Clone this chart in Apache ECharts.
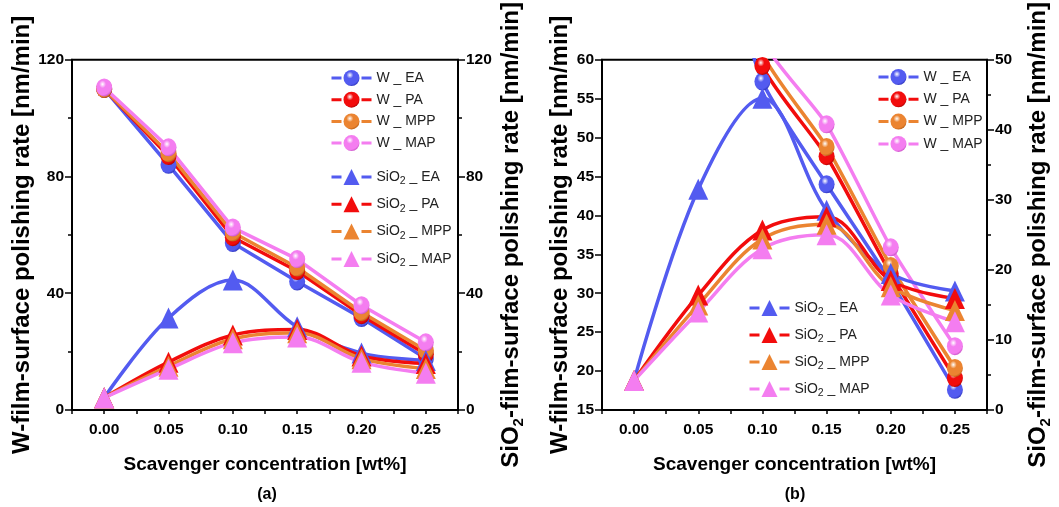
<!DOCTYPE html>
<html>
<head>
<meta charset="utf-8">
<script src="https://cdn.jsdelivr.net/npm/echarts@6/dist/echarts.min.js"></script>
<style>
html, body { margin: 0; padding: 0; background: #fff; }
#chart { width: 1059px; height: 507px; }
</style>
</head>
<body>
<div id="chart"></div>
<script>
// scavenger concentration [wt%]
var conc = [0, 0.05, 0.10, 0.15, 0.20, 0.25];
var concLabels = ['0.00', '0.05', '0.10', '0.15', '0.20', '0.25'];
var scavengers = ['EA', 'PA', 'MPP', 'MAP'];

// W-film polishing rate [nm/min]
var wEA  = [110, 84, 57.2, 44.0, 31.5, 17.6];
var wPA  = [110, 87, 59.2, 47.6, 32.5, 19.1];
var wMPP = [110, 88, 60.8, 48.8, 33.5, 20.4];
var wMAP = [110.5, 90, 62.5, 51.7, 35.9, 23.2];

// SiO2-film polishing rate [nm/min]
var sEA  = [4.2, 31.5, 44.5, 28.5, 19.5, 17.0];
var sPA  = [4.2, 16.4, 25.7, 27.6, 18.5, 15.9];
var sMPP = [4.2, 15.0, 24.4, 26.5, 17.6, 14.2];
var sMAP = [4.2, 14.0, 23.0, 25.0, 16.4, 12.6];

// axis ranges [min, max, interval]: panel (a), panel (b)
var wRange = [[0, 120, 40], [15, 60, 5]];
var sRange = [[0, 120, 40], [0, 50, 10]];

var wData = { EA: wEA, PA: wPA, MPP: wMPP, MAP: wMAP };
var sData = { EA: sEA, PA: sPA, MPP: sMPP, MAP: sMAP };

var colors = { EA: '#535bf0', PA: '#f20c0c', MPP: '#eb8431', MAP: '#f47df0' };
var darks  = { EA: '#2a31b5', PA: '#a30000', MPP: '#b3580f', MAP: '#c24cbf' };

var FONT = '"Liberation Sans", Arial, sans-serif';

function sphere(k) {
    return {
        type: 'radial', x: 0.4, y: 0.32, r: 0.72,
        colorStops: [
            { offset: 0, color: '#ffffff' },
            { offset: 0.3, color: colors[k] },
            { offset: 0.8, color: colors[k] },
            { offset: 1, color: darks[k] }
        ]
    };
}

function pairs(vals) {
    return vals.map(function (v, i) { return [conc[i], v]; });
}

// SiO2 -> SiO + subscript 2
function subName(name) {
    if (name.indexOf('SiO2') === 0) {
        return '{t|SiO}{s|2}{t|' + name.slice(4) + '}';
    }
    return '{t|' + name + '}';
}

var tickStyle = { color: '#000', width: 1.5 };
var lineBlack = { color: '#000', width: 2 };
var tickLabel = { color: '#000', fontFamily: FONT, fontWeight: 'bold', fontSize: 15.5 };

function xAxes(g) {
    return [
        {
            // numeric axis carrying the data and the minor ticks
            type: 'value', gridIndex: g, position: 'bottom',
            min: -0.025, max: 0.275, interval: 0.025,
            axisLine: { onZero: false, lineStyle: lineBlack },
            axisTick: { length: 4, lineStyle: tickStyle },
            axisLabel: { show: false },
            splitLine: { show: false }
        },
        {
            // label axis
            type: 'category', gridIndex: g, position: 'bottom',
            data: concLabels, boundaryGap: true,
            axisLine: { show: false, onZero: false },
            axisTick: { alignWithLabel: true, length: 7, lineStyle: tickStyle },
            axisLabel: Object.assign({ margin: 12 }, tickLabel),
            name: 'Scavenger concentration [wt%]',
            nameLocation: 'middle', nameGap: 45,
            nameTextStyle: { color: '#000', fontFamily: FONT, fontWeight: 'bold', fontSize: 19 }
        }
    ];
}

function yAxis(g, pos, r, name, minor, gap) {
    return {
        type: 'value', gridIndex: g, position: pos,
        min: r[0], max: r[1], interval: r[2],
        axisLine: { show: true, onZero: false, lineStyle: lineBlack },
        axisTick: { show: true, length: 7, lineStyle: tickStyle },
        minorTick: { show: minor, splitNumber: 2, length: 4, lineStyle: tickStyle },
        axisLabel: Object.assign({ margin: 8 }, tickLabel),
        splitLine: { show: false },
        name: name, nameLocation: 'middle', nameRotate: 90, nameGap: gap,
        nameTextStyle: {
            color: '#000', fontFamily: FONT, fontWeight: 'bold', fontSize: 24,
            rich: {
                t: { fontFamily: FONT, fontWeight: 'bold', fontSize: 24, lineHeight: 30 },
                s: { fontFamily: FONT, fontWeight: 'bold', fontSize: 15, lineHeight: 15, verticalAlign: 'bottom' }
            }
        }
    };
}

function panelSeries(p) {
    var out = [];
    scavengers.forEach(function (k) {
        out.push({
            name: 'W _ ' + k, type: 'line',
            xAxisIndex: p * 2, yAxisIndex: p * 2,
            data: pairs(wData[k]),
            smooth: p === 1 ? 0.2 : false,
            symbol: 'circle', symbolSize: [16, 18],
            lineStyle: { color: colors[k], width: 3.5 },
            itemStyle: { color: sphere(k) },
            emphasis: { disabled: true }
        });
    });
    scavengers.forEach(function (k) {
        out.push({
            name: 'SiO2 _ ' + k, type: 'line',
            xAxisIndex: p * 2, yAxisIndex: p * 2 + 1,
            data: pairs(sData[k]),
            smooth: 0.35,
            symbol: 'triangle', symbolSize: [20, 21],
            lineStyle: { color: colors[k], width: 3.5 },
            itemStyle: { color: colors[k] },
            emphasis: { disabled: true }
        });
    });
    return out;
}

function legend(names, left, top, gap) {
    return {
        orient: 'vertical', left: left, top: top, padding: 0,
        itemWidth: 40, itemHeight: 20, itemGap: gap,
        selectedMode: false,
        data: names,
        lineStyle: { type: [10, 20], width: 3 },
        formatter: subName,
        textStyle: {
            color: '#222', fontFamily: FONT, fontSize: 14,
            rich: {
                t: { fontFamily: FONT, fontSize: 14, lineHeight: 20, color: '#222' },
                s: { fontFamily: FONT, fontSize: 10.5, lineHeight: 11, verticalAlign: 'bottom', color: '#222' }
            }
        }
    };
}

var wNames = scavengers.map(function (k) { return 'W _ ' + k; });
var sNames = scavengers.map(function (k) { return 'SiO2 _ ' + k; });

var wTitle = 'W-film-surface polishing rate [nm/min]';
var sTitle = '{t|SiO}{s|2}{t|-film-surface polishing rate [nm/min]}';

var myChart = echarts.init(document.getElementById('chart'));

var option = {
    backgroundColor: '#fff',
    animation: false,
    grid: [
        { left: 72, top: 58, width: 386, height: 352, show: true, borderColor: '#000', borderWidth: 2 },
        { left: 602, top: 58, width: 385, height: 352, show: true, borderColor: '#000', borderWidth: 2 }
    ],
    xAxis: xAxes(0).concat(xAxes(1)),
    yAxis: [
        yAxis(0, 'left', wRange[0], wTitle, true, 28),
        yAxis(0, 'right', sRange[0], sTitle, true, 38),
        yAxis(1, 'left', wRange[1], wTitle, false, 30),
        yAxis(1, 'right', sRange[1], sTitle, true, 36)
    ],
    legend: [
        legend(wNames, 330, 70, 5.7),
        legend(sNames, 330, 169, 9.3),
        legend(wNames, 877, 69, 6.3),
        legend(sNames, 748, 300, 9)
    ],
    graphic: [
        { type: 'text', x: 267, y: 487, style: { text: '(a)', textAlign: 'center', font: 'bold 16px ' + FONT, fill: '#000' } },
        { type: 'text', x: 795, y: 487, style: { text: '(b)', textAlign: 'center', font: 'bold 16px ' + FONT, fill: '#000' } }
    ],
    series: panelSeries(0).concat(panelSeries(1))
};

myChart.setOption(option);

window.addEventListener('resize', function () {
    myChart.resize();
});
</script>
</body>
</html>
